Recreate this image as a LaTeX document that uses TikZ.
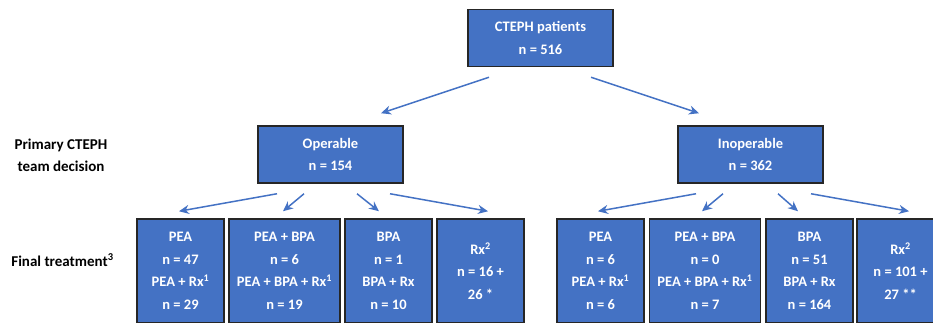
\documentclass[tikz,border=0pt]{standalone}
\usepackage{fontspec}
\setmainfont{Carlito}
\usetikzlibrary{arrows.meta,calc}
\definecolor{boxblue}{HTML}{4472C4}
\tikzset{
  box/.style={draw=black!85, line width=1.5pt, fill=boxblue, text=white,
    font=\bfseries\fontsize{14.5}{22.5}\selectfont, align=center, inner sep=0pt},
  headbox/.style={box, minimum width=145pt, minimum height=57pt},
  kidbox/.style={box, minimum width=87pt, minimum height=104pt},
  widekid/.style={kidbox, minimum width=111pt},
  rowlabel/.style={font=\bfseries\fontsize{15}{22}\selectfont, align=center},
  link/.style={draw=boxblue, line width=1.5pt, -{Stealth[length=10pt,width=9pt]}}
}
\begin{document}
\begin{tikzpicture}[x=1pt,y=-1pt]
\useasboundingbox (0,0) rectangle (933,323);

% top level
\node[headbox] (patients) at (540.5,38) {CTEPH patients\\n = 516};

% team decision
\node[headbox] (operable) at (330.5,154.5) {Operable\\n = 154};
\node[headbox] (inoperable) at (750.5,154.5) {Inoperable\\n = 362};

% final treatment, operable side
\node[kidbox] (opPEA) at (180.5,271) {PEA\\n = 47\\PEA + Rx\textsuperscript{1}\\n = 29};
\node[widekid] (opPEABPA) at (284.5,271) {PEA + BPA\\n = 6\\PEA + BPA + Rx\textsuperscript{1}\\n = 19};
\node[kidbox] (opBPA) at (388.5,271) {BPA\\n = 1\\BPA + Rx\\n = 10};
\node[kidbox] (opRx) at (480.5,271) {Rx\textsuperscript{2}\\n = 16 +\\26 *};

% final treatment, inoperable side
\node[kidbox] (inPEA) at (600.5,271) {PEA\\n = 6\\PEA + Rx\textsuperscript{1}\\n = 6};
\node[widekid] (inPEABPA) at (705,271) {PEA + BPA\\n = 0\\PEA + BPA + Rx\textsuperscript{1}\\n = 7};
\node[kidbox] (inBPA) at (809.5,271) {BPA\\n = 51\\BPA + Rx\\n = 164};
\node[kidbox] (inRx) at (900.5,271) {Rx\textsuperscript{2}\\n = 101 +\\27 **};

% row labels
\node[rowlabel] (decision) at (61,155) {Primary CTEPH\\team decision};
\node[rowlabel] (final) at (62.5,260) {Final treatment\textsuperscript{3}};

% arrows
\draw[link] ($(patients.south)+(-51.5,10)$) -- ($(operable.north)+(50.5,-12)$);
\draw[link] ($(patients.south)+(50.5,10)$) -- ($(inoperable.north)+(-51.5,-12)$);

\draw[link] ($(operable.south)+(-53.5,10)$) -- ($(opPEA.north)+(-1.5,-7)$);
\draw[link] ($(operable.south)+(-26.5,10)$) -- ($(opPEABPA.north)+(-1.5,-7)$);
\draw[link] ($(operable.south)+(26.5,10)$) -- ($(opBPA.north)+(-9.5,-7)$);
\draw[link] ($(operable.south)+(59.5,10)$) -- ($(opRx.north)+(7.5,-7)$);

\draw[link] ($(inoperable.south)+(-54.5,10)$) -- ($(inPEA.north)+(-2.5,-7)$);
\draw[link] ($(inoperable.south)+(-27.5,10)$) -- ($(inPEABPA.north)+(-3,-7)$);
\draw[link] ($(inoperable.south)+(27.5,10)$) -- ($(inBPA.north)+(-11.5,-7)$);
\draw[link] ($(inoperable.south)+(60.5,10)$) -- ($(inRx.north)+(8.5,-7)$);

\end{tikzpicture}
\end{document}
